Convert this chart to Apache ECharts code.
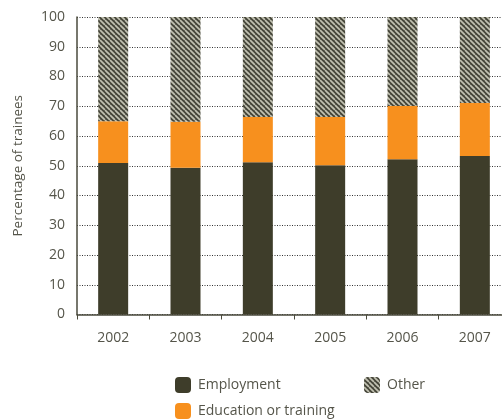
<!DOCTYPE html>
<html>
<head>
<meta charset="utf-8">
<script src="https://cdn.jsdelivr.net/npm/echarts@6/dist/echarts.min.js"></script>
<style>
  html, body { margin: 0; padding: 0; background: #fff; overflow: hidden; }
  #chart { width: 511px; height: 419px; }
</style>
</head>
<body>
<div id="chart"></div>
<script>
// Outcomes of trainees by year (percent)
const years = ['2002', '2003', '2004', '2005', '2006', '2007'];
const employment = [50.9, 49.3, 51.2, 50.2, 52.2, 53.3];
const education = [14.1, 15.5, 15.2, 16.2, 17.9, 17.8];
const other = [35.0, 35.2, 33.6, 33.6, 29.9, 28.9];
const yTicks = [0, 10, 20, 30, 40, 50, 60, 70, 80, 90, 100];

// Diagonal hatch used for the "Other" segment
function makeHatch() {
  const c = document.createElement('canvas');
  const s = 5;
  c.width = s; c.height = s;
  const g = c.getContext('2d');
  g.fillStyle = '#46463a';
  g.fillRect(0, 0, s, s);
  g.strokeStyle = '#c2c2b2';
  g.lineWidth = 1.7;
  for (let k = -s; k <= 2 * s; k += s) {
    g.beginPath();
    g.moveTo(k, 0);
    g.lineTo(k + s, s);
    g.stroke();
  }
  return c;
}

const font = 'Open Sans, DejaVu Sans, sans-serif';
const textColor = '#55554a';
const legendText = { fontSize: 14, color: textColor, fontFamily: font, padding: [0, 0, 0, 2] };
const chart = echarts.init(document.getElementById('chart'), null, { renderer: 'canvas' });

chart.setOption({
  animation: false,
  textStyle: { fontFamily: font },
  grid: { left: 77, right: 0, top: 17, bottom: 104.5, containLabel: false },
  legend: [
    { data: ['Employment'], left: 175, top: 377, padding: 0, itemWidth: 16, itemHeight: 16,
      textStyle: legendText },
    { data: ['Other'], left: 364, top: 377, padding: 0, itemWidth: 16, itemHeight: 16,
      textStyle: legendText },
    { data: ['Education or training'], left: 175, top: 403, padding: 0, itemWidth: 16, itemHeight: 16,
      textStyle: legendText }
  ],
  xAxis: {
    type: 'category',
    data: years,
    axisLine: { lineStyle: { color: '#4a4a3c', width: 1.5 } },
    axisTick: { show: true, length: 5, lineStyle: { color: '#4a4a3c' } },
    axisLabel: { color: textColor, fontSize: 14, margin: 17, fontFamily: font }
  },
  yAxis: {
    type: 'value',
    min: yTicks[0],
    max: yTicks[yTicks.length - 1],
    interval: 10,
    name: 'Percentage of trainees',
    nameLocation: 'middle',
    nameGap: 52,
    nameTextStyle: { color: textColor, fontSize: 13.5, fontFamily: font },
    axisLine: { show: true, lineStyle: { color: '#4a4a3c', width: 1.5 } },
    axisTick: { show: false },
    axisLabel: { color: textColor, fontSize: 14, margin: 12, fontFamily: font },
    splitLine: { show: true, lineStyle: { color: '#333', type: [1, 1.5], width: 1 } }
  },
  series: [
    { name: 'Employment', type: 'bar', stack: 'all', barWidth: 30, data: employment,
      itemStyle: { color: '#3e3d2a' } },
    { name: 'Education or training', type: 'bar', stack: 'all', barWidth: 30, data: education,
      itemStyle: { color: '#f7901e' } },
    { name: 'Other', type: 'bar', stack: 'all', barWidth: 30, data: other,
      itemStyle: { color: { image: makeHatch(), repeat: 'repeat' } } }
  ]
});
</script>
</body>
</html>
